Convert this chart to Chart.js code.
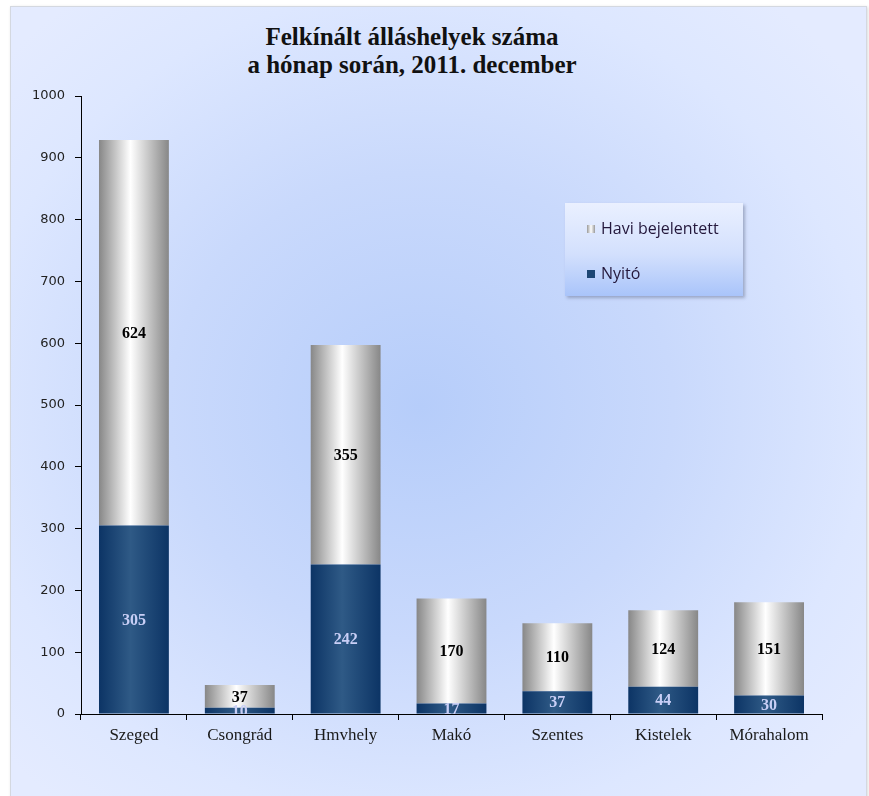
<!DOCTYPE html>
<html>
<head>
<meta charset="utf-8">
<script src="https://cdn.jsdelivr.net/npm/chart.js@4"></script>
<style>
  html, body { margin: 0; padding: 0; background: #fff; }
  #frame {
    position: absolute; left: 10px; top: 6px; width: 855px; height: 800px;
    border: 1px solid #d4d8e0;
    background: radial-gradient(ellipse 560px 520px at 410px 400px, #b6cdfa 0%, #c9d9fc 45%, #dde7ff 80%, #e4ebff 100%);
    box-shadow: 1px 1px 3px rgba(0,0,0,0.15);
  }
  #title {
    position: absolute; left: 162px; width: 500px; top: 23px;
    text-align: center; font-family: "Liberation Serif", serif; font-weight: bold;
    font-size: 25px; line-height: 28px; color: #111;
  }
  #legend {
    position: absolute; left: 565px; top: 203px; width: 178px; height: 93px;
    background: linear-gradient(to bottom, #eaf0ff 0%, #d3e0fd 55%, #a9c4fa 100%);
    box-shadow: 2px 2px 3px rgba(90,100,130,0.45);
    font-family: "Open Sans", "DejaVu Sans", sans-serif; font-size: 16px; color: #24183c;
  }
  #legend .item { position: absolute; left: 22px; height: 20px; line-height: 20px; }
  #legend .mark { display: inline-block; width: 8px; height: 8px; margin-right: 6px; vertical-align: 1px; }
  canvas { position: absolute; left: 0; top: 0; }
</style>
</head>
<body>
<div id="frame"></div>
<div id="title">Felkínált álláshelyek száma<br>a hónap során, 2011. december</div>
<canvas id="chart" width="869" height="796"></canvas>
<div id="legend"></div>
<script>
// adatok
var categories = ['Szeged', 'Csongrád', 'Hmvhely', 'Makó', 'Szentes', 'Kistelek', 'Mórahalom'];
var nyito = [305, 10, 242, 17, 37, 44, 30];
var haviBejelentett = [624, 37, 355, 170, 110, 124, 151];
var yTicks = [0, 100, 200, 300, 400, 500, 600, 700, 800, 900, 1000];

var BAR_PCT = 0.66;

// vízszintes színátmenet oszloponként
function barFill(edge, mid) {
  return function (c) {
    var chart = c.chart;
    var area = chart.chartArea;
    if (!area || c.dataIndex === undefined) return mid;
    var x = chart.scales.x.getPixelForValue(c.dataIndex);
    var w = area.width / categories.length * BAR_PCT;
    var g = chart.ctx.createLinearGradient(x - w / 2, 0, x + w / 2, 0);
    g.addColorStop(0, edge);
    g.addColorStop(0.45, mid);
    g.addColorStop(1, edge);
    return g;
  };
}

// értékek kiírása a szegmensek közepére
var valueLabels = {
  id: 'valueLabels',
  afterDatasetsDraw: function (chart) {
    var ctx = chart.ctx;
    var a = chart.chartArea;
    ctx.save();
    ctx.beginPath();
    ctx.rect(a.left, a.top, a.right - a.left, a.bottom - a.top);
    ctx.clip();
    ctx.font = 'bold 16px "Liberation Serif", serif';
    ctx.textAlign = 'center';
    ctx.textBaseline = 'middle';
    chart.data.datasets.forEach(function (ds, i) {
      var meta = chart.getDatasetMeta(i);
      ctx.fillStyle = ds.labelColor;
      meta.data.forEach(function (el, j) {
        ctx.fillText(String(ds.data[j]), el.x, (el.y + el.base) / 2 + 1);
      });
    });
    ctx.restore();
  }
};

var datasets = [{
  label: 'Nyitó',
  data: nyito,
  backgroundColor: barFill('#0c3465', '#2f5a86'),
  legendColor: '#1d4674',
  labelColor: '#c9cff6'
}, {
  label: 'Havi bejelentett',
  data: haviBejelentett,
  backgroundColor: barFill('#878787', '#ffffff'),
  legendColor: 'linear-gradient(to right, #999, #fff, #999)',
  labelColor: '#000'
}];

var chartArea = document.getElementById('chart').getContext('2d');
var myChart = new Chart(chartArea, {
  type: 'bar',
  data: { labels: categories, datasets: datasets },
  plugins: [valueLabels],
  options: {
    responsive: false,
    animation: false,
    layout: { padding: { left: 0, right: 47, top: 96, bottom: 42 } },
    plugins: { legend: { display: false }, title: { display: false }, tooltip: { enabled: false } },
    datasets: { bar: { barPercentage: BAR_PCT, categoryPercentage: 1 } },
    scales: {
      x: {
        stacked: true,
        afterFit: function (s) { s.height = 40; },
        border: { color: '#000', width: 1 },
        grid: { offset: true, drawOnChartArea: false, color: '#000', tickLength: 6 },
        ticks: { color: '#1a1a1a', padding: 5, font: { family: '"Liberation Serif", serif', size: 17 } }
      },
      y: {
        stacked: true,
        min: 0,
        max: 1000,
        afterFit: function (s) { s.width = 81; },
        afterBuildTicks: function (s) { s.ticks = yTicks.map(function (v) { return { value: v }; }); },
        border: { color: '#000', width: 1 },
        grid: { drawOnChartArea: false, color: '#000', tickLength: 6 },
        ticks: {
          color: '#222', padding: 10,
          font: { family: '"DejaVu Sans", sans-serif', size: 13 },
          callback: function (v) { return String(v); }
        }
      }
    }
  }
});

// jelmagyarázat (fordított sorrend)
var legend = document.getElementById('legend');
datasets.slice().reverse().forEach(function (ds, i) {
  var item = document.createElement('div');
  item.className = 'item';
  item.style.top = (15 + i * 45) + 'px';
  var mark = document.createElement('span');
  mark.className = 'mark';
  mark.style.background = ds.legendColor;
  item.appendChild(mark);
  item.appendChild(document.createTextNode(ds.label));
  legend.appendChild(item);
});
</script>
</body>
</html>
